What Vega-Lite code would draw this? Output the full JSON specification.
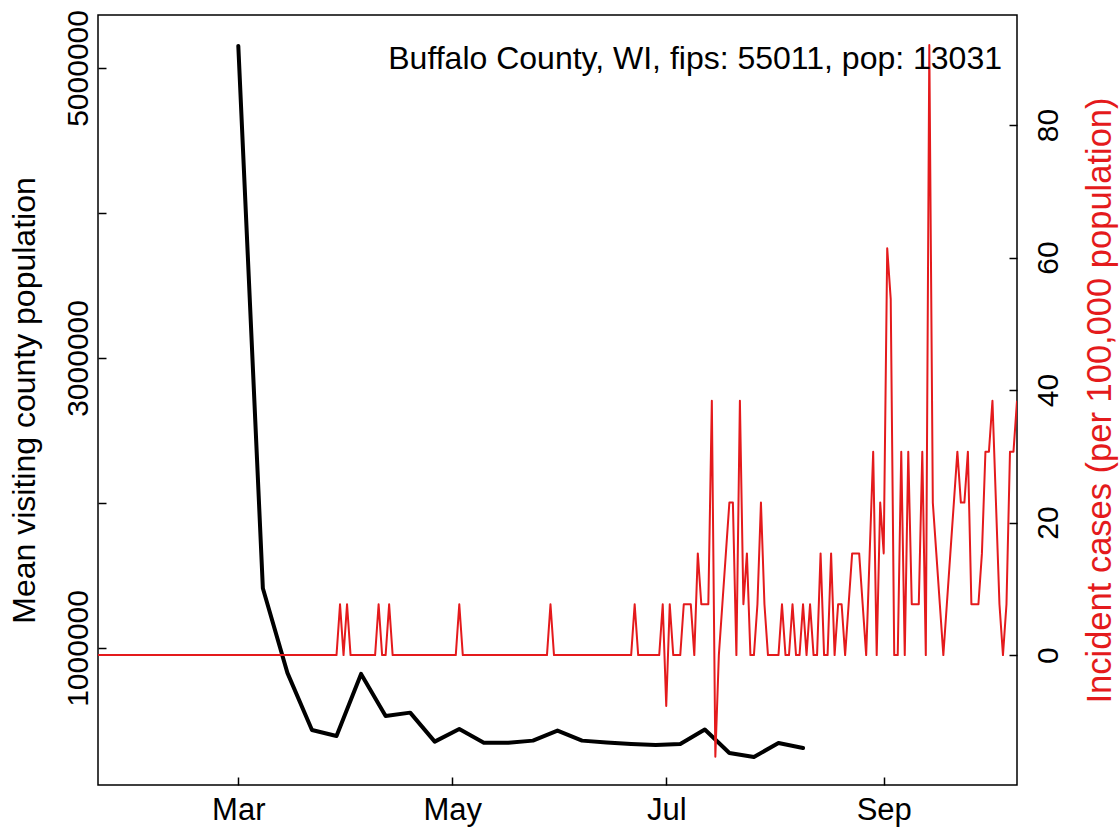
{
  "$schema": "https://vega.github.io/schema/vega-lite/v6.json",
  "width": 919,
  "height": 770,
  "autosize": {"type": "none"},
  "padding": {"left": 98, "top": 15, "right": 102, "bottom": 45},
  "background": "white",
  "config": {
    "view": {"stroke": "black", "strokeWidth": 1.5},
    "font": "Liberation Sans",
    "axis": {"domain": false, "grid": false, "tickColor": "black", "tickWidth": 1.5, "tickSize": -8, "labelColor": "black", "labelFontSize": 30, "labelFont": "Liberation Sans", "titleFont": "Liberation Sans", "titleFontWeight": "normal", "titleColor": "black", "labelOverlap": false, "labelFlush": false}
  },
  "title": {"text": "Buffalo County, WI, fips: 55011, pop: 13031", "anchor": "end", "orient": "top", "frame": "group", "fontSize": 32, "fontWeight": "normal", "color": "black", "font": "Liberation Sans", "baseline": "alphabetic", "offset": -53, "dy": 38, "dx": -15},
  "datasets": {
    "mobility": [
      {"date": "2020-03-01", "visitors": 5152000},
      {"date": "2020-03-08", "visitors": 1412000},
      {"date": "2020-03-15", "visitors": 828000},
      {"date": "2020-03-22", "visitors": 434000},
      {"date": "2020-03-29", "visitors": 393000},
      {"date": "2020-04-05", "visitors": 821000},
      {"date": "2020-04-12", "visitors": 531000},
      {"date": "2020-04-19", "visitors": 554000},
      {"date": "2020-04-26", "visitors": 354000},
      {"date": "2020-05-03", "visitors": 441000},
      {"date": "2020-05-10", "visitors": 347000},
      {"date": "2020-05-17", "visitors": 347000},
      {"date": "2020-05-24", "visitors": 361000},
      {"date": "2020-05-31", "visitors": 430000},
      {"date": "2020-06-07", "visitors": 361000},
      {"date": "2020-06-14", "visitors": 348000},
      {"date": "2020-06-21", "visitors": 338000},
      {"date": "2020-06-28", "visitors": 331000},
      {"date": "2020-07-05", "visitors": 338000},
      {"date": "2020-07-12", "visitors": 438000},
      {"date": "2020-07-19", "visitors": 276000},
      {"date": "2020-07-26", "visitors": 248000},
      {"date": "2020-08-02", "visitors": 345000},
      {"date": "2020-08-09", "visitors": 310000}
    ],
    "cases": [
      {"date": "2020-01-21", "incidence": 0}, {"date": "2020-01-22", "incidence": 0}, {"date": "2020-01-23", "incidence": 0}, {"date": "2020-01-24", "incidence": 0}, {"date": "2020-01-25", "incidence": 0}, {"date": "2020-01-26", "incidence": 0}, {"date": "2020-01-27", "incidence": 0}, {"date": "2020-01-28", "incidence": 0}, {"date": "2020-01-29", "incidence": 0}, {"date": "2020-01-30", "incidence": 0}, {"date": "2020-01-31", "incidence": 0},
      {"date": "2020-02-01", "incidence": 0}, {"date": "2020-02-02", "incidence": 0}, {"date": "2020-02-03", "incidence": 0}, {"date": "2020-02-04", "incidence": 0}, {"date": "2020-02-05", "incidence": 0}, {"date": "2020-02-06", "incidence": 0}, {"date": "2020-02-07", "incidence": 0}, {"date": "2020-02-08", "incidence": 0}, {"date": "2020-02-09", "incidence": 0}, {"date": "2020-02-10", "incidence": 0}, {"date": "2020-02-11", "incidence": 0}, {"date": "2020-02-12", "incidence": 0}, {"date": "2020-02-13", "incidence": 0}, {"date": "2020-02-14", "incidence": 0}, {"date": "2020-02-15", "incidence": 0}, {"date": "2020-02-16", "incidence": 0}, {"date": "2020-02-17", "incidence": 0}, {"date": "2020-02-18", "incidence": 0}, {"date": "2020-02-19", "incidence": 0}, {"date": "2020-02-20", "incidence": 0}, {"date": "2020-02-21", "incidence": 0}, {"date": "2020-02-22", "incidence": 0}, {"date": "2020-02-23", "incidence": 0}, {"date": "2020-02-24", "incidence": 0}, {"date": "2020-02-25", "incidence": 0}, {"date": "2020-02-26", "incidence": 0}, {"date": "2020-02-27", "incidence": 0}, {"date": "2020-02-28", "incidence": 0}, {"date": "2020-02-29", "incidence": 0},
      {"date": "2020-03-01", "incidence": 0}, {"date": "2020-03-02", "incidence": 0}, {"date": "2020-03-03", "incidence": 0}, {"date": "2020-03-04", "incidence": 0}, {"date": "2020-03-05", "incidence": 0}, {"date": "2020-03-06", "incidence": 0}, {"date": "2020-03-07", "incidence": 0}, {"date": "2020-03-08", "incidence": 0}, {"date": "2020-03-09", "incidence": 0}, {"date": "2020-03-10", "incidence": 0}, {"date": "2020-03-11", "incidence": 0}, {"date": "2020-03-12", "incidence": 0}, {"date": "2020-03-13", "incidence": 0}, {"date": "2020-03-14", "incidence": 0}, {"date": "2020-03-15", "incidence": 0}, {"date": "2020-03-16", "incidence": 0}, {"date": "2020-03-17", "incidence": 0}, {"date": "2020-03-18", "incidence": 0}, {"date": "2020-03-19", "incidence": 0}, {"date": "2020-03-20", "incidence": 0}, {"date": "2020-03-21", "incidence": 0}, {"date": "2020-03-22", "incidence": 0}, {"date": "2020-03-23", "incidence": 0}, {"date": "2020-03-24", "incidence": 0}, {"date": "2020-03-25", "incidence": 0}, {"date": "2020-03-26", "incidence": 0}, {"date": "2020-03-27", "incidence": 0}, {"date": "2020-03-28", "incidence": 0}, {"date": "2020-03-29", "incidence": 0}, {"date": "2020-03-30", "incidence": 7.67}, {"date": "2020-03-31", "incidence": 0},
      {"date": "2020-04-01", "incidence": 7.67}, {"date": "2020-04-02", "incidence": 0}, {"date": "2020-04-03", "incidence": 0}, {"date": "2020-04-04", "incidence": 0}, {"date": "2020-04-05", "incidence": 0}, {"date": "2020-04-06", "incidence": 0}, {"date": "2020-04-07", "incidence": 0}, {"date": "2020-04-08", "incidence": 0}, {"date": "2020-04-09", "incidence": 0}, {"date": "2020-04-10", "incidence": 7.67}, {"date": "2020-04-11", "incidence": 0}, {"date": "2020-04-12", "incidence": 0}, {"date": "2020-04-13", "incidence": 7.67}, {"date": "2020-04-14", "incidence": 0}, {"date": "2020-04-15", "incidence": 0}, {"date": "2020-04-16", "incidence": 0}, {"date": "2020-04-17", "incidence": 0}, {"date": "2020-04-18", "incidence": 0}, {"date": "2020-04-19", "incidence": 0}, {"date": "2020-04-20", "incidence": 0}, {"date": "2020-04-21", "incidence": 0}, {"date": "2020-04-22", "incidence": 0}, {"date": "2020-04-23", "incidence": 0}, {"date": "2020-04-24", "incidence": 0}, {"date": "2020-04-25", "incidence": 0}, {"date": "2020-04-26", "incidence": 0}, {"date": "2020-04-27", "incidence": 0}, {"date": "2020-04-28", "incidence": 0}, {"date": "2020-04-29", "incidence": 0}, {"date": "2020-04-30", "incidence": 0},
      {"date": "2020-05-01", "incidence": 0}, {"date": "2020-05-02", "incidence": 0}, {"date": "2020-05-03", "incidence": 7.67}, {"date": "2020-05-04", "incidence": 0}, {"date": "2020-05-05", "incidence": 0}, {"date": "2020-05-06", "incidence": 0}, {"date": "2020-05-07", "incidence": 0}, {"date": "2020-05-08", "incidence": 0}, {"date": "2020-05-09", "incidence": 0}, {"date": "2020-05-10", "incidence": 0}, {"date": "2020-05-11", "incidence": 0}, {"date": "2020-05-12", "incidence": 0}, {"date": "2020-05-13", "incidence": 0}, {"date": "2020-05-14", "incidence": 0}, {"date": "2020-05-15", "incidence": 0}, {"date": "2020-05-16", "incidence": 0}, {"date": "2020-05-17", "incidence": 0}, {"date": "2020-05-18", "incidence": 0}, {"date": "2020-05-19", "incidence": 0}, {"date": "2020-05-20", "incidence": 0}, {"date": "2020-05-21", "incidence": 0}, {"date": "2020-05-22", "incidence": 0}, {"date": "2020-05-23", "incidence": 0}, {"date": "2020-05-24", "incidence": 0}, {"date": "2020-05-25", "incidence": 0}, {"date": "2020-05-26", "incidence": 0}, {"date": "2020-05-27", "incidence": 0}, {"date": "2020-05-28", "incidence": 0}, {"date": "2020-05-29", "incidence": 7.67}, {"date": "2020-05-30", "incidence": 0}, {"date": "2020-05-31", "incidence": 0},
      {"date": "2020-06-01", "incidence": 0}, {"date": "2020-06-02", "incidence": 0}, {"date": "2020-06-03", "incidence": 0}, {"date": "2020-06-04", "incidence": 0}, {"date": "2020-06-05", "incidence": 0}, {"date": "2020-06-06", "incidence": 0}, {"date": "2020-06-07", "incidence": 0}, {"date": "2020-06-08", "incidence": 0}, {"date": "2020-06-09", "incidence": 0}, {"date": "2020-06-10", "incidence": 0}, {"date": "2020-06-11", "incidence": 0}, {"date": "2020-06-12", "incidence": 0}, {"date": "2020-06-13", "incidence": 0}, {"date": "2020-06-14", "incidence": 0}, {"date": "2020-06-15", "incidence": 0}, {"date": "2020-06-16", "incidence": 0}, {"date": "2020-06-17", "incidence": 0}, {"date": "2020-06-18", "incidence": 0}, {"date": "2020-06-19", "incidence": 0}, {"date": "2020-06-20", "incidence": 0}, {"date": "2020-06-21", "incidence": 0}, {"date": "2020-06-22", "incidence": 7.67}, {"date": "2020-06-23", "incidence": 0}, {"date": "2020-06-24", "incidence": 0}, {"date": "2020-06-25", "incidence": 0}, {"date": "2020-06-26", "incidence": 0}, {"date": "2020-06-27", "incidence": 0}, {"date": "2020-06-28", "incidence": 0}, {"date": "2020-06-29", "incidence": 0}, {"date": "2020-06-30", "incidence": 7.67},
      {"date": "2020-07-01", "incidence": -7.67}, {"date": "2020-07-02", "incidence": 7.67}, {"date": "2020-07-03", "incidence": 0}, {"date": "2020-07-04", "incidence": 0}, {"date": "2020-07-05", "incidence": 0}, {"date": "2020-07-06", "incidence": 7.67}, {"date": "2020-07-07", "incidence": 7.67}, {"date": "2020-07-08", "incidence": 7.67}, {"date": "2020-07-09", "incidence": 0}, {"date": "2020-07-10", "incidence": 15.35}, {"date": "2020-07-11", "incidence": 7.67}, {"date": "2020-07-12", "incidence": 7.67}, {"date": "2020-07-13", "incidence": 7.67}, {"date": "2020-07-14", "incidence": 38.37}, {"date": "2020-07-15", "incidence": -15.35}, {"date": "2020-07-16", "incidence": 0}, {"date": "2020-07-17", "incidence": 7.67}, {"date": "2020-07-18", "incidence": 15.35}, {"date": "2020-07-19", "incidence": 23.02}, {"date": "2020-07-20", "incidence": 23.02}, {"date": "2020-07-21", "incidence": 0}, {"date": "2020-07-22", "incidence": 38.37}, {"date": "2020-07-23", "incidence": 7.67}, {"date": "2020-07-24", "incidence": 15.35}, {"date": "2020-07-25", "incidence": 0}, {"date": "2020-07-26", "incidence": 0}, {"date": "2020-07-27", "incidence": 7.67}, {"date": "2020-07-28", "incidence": 23.02}, {"date": "2020-07-29", "incidence": 7.67}, {"date": "2020-07-30", "incidence": 0}, {"date": "2020-07-31", "incidence": 0},
      {"date": "2020-08-01", "incidence": 0}, {"date": "2020-08-02", "incidence": 0}, {"date": "2020-08-03", "incidence": 7.67}, {"date": "2020-08-04", "incidence": 0}, {"date": "2020-08-05", "incidence": 0}, {"date": "2020-08-06", "incidence": 7.67}, {"date": "2020-08-07", "incidence": 0}, {"date": "2020-08-08", "incidence": 0}, {"date": "2020-08-09", "incidence": 7.67}, {"date": "2020-08-10", "incidence": 0}, {"date": "2020-08-11", "incidence": 7.67}, {"date": "2020-08-12", "incidence": 0}, {"date": "2020-08-13", "incidence": 0}, {"date": "2020-08-14", "incidence": 15.35}, {"date": "2020-08-15", "incidence": 0}, {"date": "2020-08-16", "incidence": 0}, {"date": "2020-08-17", "incidence": 15.35}, {"date": "2020-08-18", "incidence": 0}, {"date": "2020-08-19", "incidence": 7.67}, {"date": "2020-08-20", "incidence": 7.67}, {"date": "2020-08-21", "incidence": 0}, {"date": "2020-08-22", "incidence": 7.67}, {"date": "2020-08-23", "incidence": 15.35}, {"date": "2020-08-24", "incidence": 15.35}, {"date": "2020-08-25", "incidence": 15.35}, {"date": "2020-08-26", "incidence": 7.67}, {"date": "2020-08-27", "incidence": 0}, {"date": "2020-08-28", "incidence": 15.35}, {"date": "2020-08-29", "incidence": 30.7}, {"date": "2020-08-30", "incidence": 0}, {"date": "2020-08-31", "incidence": 23.02},
      {"date": "2020-09-01", "incidence": 15.35}, {"date": "2020-09-02", "incidence": 61.39}, {"date": "2020-09-03", "incidence": 53.72}, {"date": "2020-09-04", "incidence": 0}, {"date": "2020-09-05", "incidence": 0}, {"date": "2020-09-06", "incidence": 30.7}, {"date": "2020-09-07", "incidence": 0}, {"date": "2020-09-08", "incidence": 30.7}, {"date": "2020-09-09", "incidence": 7.67}, {"date": "2020-09-10", "incidence": 7.67}, {"date": "2020-09-11", "incidence": 7.67}, {"date": "2020-09-12", "incidence": 30.7}, {"date": "2020-09-13", "incidence": 0}, {"date": "2020-09-14", "incidence": 92.09}, {"date": "2020-09-15", "incidence": 23.02}, {"date": "2020-09-16", "incidence": 15.35}, {"date": "2020-09-17", "incidence": 7.67}, {"date": "2020-09-18", "incidence": 0}, {"date": "2020-09-19", "incidence": 7.67}, {"date": "2020-09-20", "incidence": 15.35}, {"date": "2020-09-21", "incidence": 23.02}, {"date": "2020-09-22", "incidence": 30.7}, {"date": "2020-09-23", "incidence": 23.02}, {"date": "2020-09-24", "incidence": 23.02}, {"date": "2020-09-25", "incidence": 30.7}, {"date": "2020-09-26", "incidence": 7.67}, {"date": "2020-09-27", "incidence": 7.67}, {"date": "2020-09-28", "incidence": 7.67}, {"date": "2020-09-29", "incidence": 15.35}, {"date": "2020-09-30", "incidence": 30.7},
      {"date": "2020-10-01", "incidence": 30.7}, {"date": "2020-10-02", "incidence": 38.37}, {"date": "2020-10-03", "incidence": 23.02}, {"date": "2020-10-04", "incidence": 7.67}, {"date": "2020-10-05", "incidence": 0}, {"date": "2020-10-06", "incidence": 7.67}, {"date": "2020-10-07", "incidence": 30.7}, {"date": "2020-10-08", "incidence": 30.7}, {"date": "2020-10-09", "incidence": 38.37}
    ]
  },
  "layer": [
    {
      "data": {"name": "mobility"},
      "mark": {"type": "line", "color": "black", "strokeWidth": 4, "strokeJoin": "round", "strokeCap": "round", "clip": true},
      "encoding": {
        "x": {
          "field": "date", "type": "temporal",
          "scale": {"type": "utc", "domain": [{"year": 2020, "month": 1, "date": 21, "utc": true}, {"year": 2020, "month": 10, "date": 9, "utc": true}]},
          "axis": {"title": null, "values": [{"year": 2020, "month": 3, "date": 1, "utc": true}, {"year": 2020, "month": 5, "date": 1, "utc": true}, {"year": 2020, "month": 7, "date": 1, "utc": true}, {"year": 2020, "month": 9, "date": 1, "utc": true}], "labelExpr": "utcFormat(datum.value, '%b')", "labelFontSize": 31, "labelPadding": 18, "labelBaseline": "top", "labelAngle": 0}
        },
        "y": {
          "field": "visitors", "type": "quantitative",
          "scale": {"domain": [55000, 5365000], "nice": false, "zero": false},
          "axis": {"orient": "left", "values": [1000000, 2000000, 3000000, 4000000, 5000000], "labelExpr": "datum.value % 2000000 == 1000000 ? format(datum.value, 'd') : ''", "labelAngle": 270, "labelAlign": "center", "labelBaseline": "alphabetic", "labelPadding": 19, "title": "Mean visiting county population", "titleFontSize": 32, "titleAngle": 270, "titleBaseline": "bottom", "titlePadding": 22}
        }
      }
    },
    {
      "data": {"name": "cases"},
      "mark": {"type": "line", "color": "#E41A1C", "strokeWidth": 2, "strokeJoin": "round", "clip": true},
      "encoding": {
        "x": {"field": "date", "type": "temporal"},
        "y": {
          "field": "incidence", "type": "quantitative",
          "scale": {"domain": [-19.6, 96.6], "nice": false, "zero": false},
          "axis": {"orient": "right", "values": [0, 20, 40, 60, 80], "labelAngle": 270, "labelAlign": "center", "labelBaseline": "top", "labelPadding": 24, "title": "Incident cases (per 100,000 population)", "titleColor": "#E41A1C", "titleFontSize": 34.5, "titleAngle": 270, "titleBaseline": "top", "titlePadding": 20}
        }
      }
    }
  ],
  "resolve": {"scale": {"y": "independent"}}
}
